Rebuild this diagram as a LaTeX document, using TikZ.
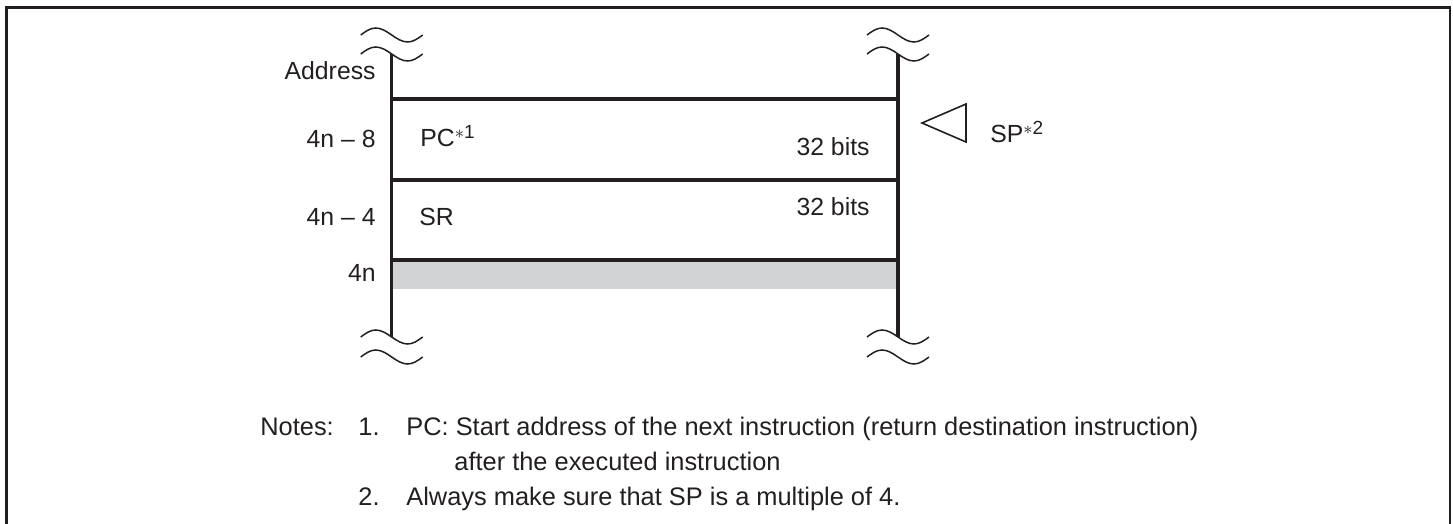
\documentclass[tikz,border=0pt]{standalone}
\usepackage{fontspec}
\setmainfont{Liberation Sans}
\usetikzlibrary{positioning}
\definecolor{ink}{HTML}{231F20}
\definecolor{band}{HTML}{D1D3D4}
\newcommand{\fnmark}[1]{\raisebox{0.62ex}{\fontsize{9.5}{9.5}\selectfont$\ast$#1}}
\tikzstyle{every node}=[anchor=base west,inner sep=0pt,text=ink,font=\fontsize{12.4}{14}\selectfont]
\tikzstyle{addr}=[anchor=base east]
\tikzstyle{note}=[font=\fontsize{12.7}{14}\selectfont]
\tikzstyle{cell}=[draw=ink,line width=1.65pt]
\tikzstyle{wave}=[draw=ink,line width=0.75pt]
\tikzset{brk/.pic={\draw[wave] (-31,0) sin (-16,-7) cos (0,0) sin (16,7) cos (31,0);}}

\begin{document}
\begin{tikzpicture}[x=0.5pt,y=-0.5pt]
  \useasboundingbox (0,0) rectangle (1453,524);
  \clip (0,0) rectangle (1453,524);
  \draw[ink,line width=1.35pt] (6.3,600) |- (1450,7.3) -- (1450,600);
  % stack
  \coordinate (ltop) at (391.7,54);
  \coordinate (rtop) at (898,54);
  \coordinate (lbot) at (391.7,337);
  \coordinate (rbot) at (898,337);
  \foreach \n/\y in {1/99,2/180,3/260}{
    \coordinate (l\n) at (391.7,\y);
    \coordinate (r\n) at (898,\y);
  }
  \fill[band] (392.5,261) rectangle (897,289);
  \draw[cell] (ltop) -- (lbot);
  \draw[cell] (rtop) -- (rbot);
  \foreach \n in {1,2,3}
    \draw[cell] (l\n) -- (r\n);
  \foreach \x in {391.7,898}{
    \pic at (\x,35) {brk};
    \pic at (\x,54) {brk};
    \pic at (\x,337) {brk};
    \pic at (\x,357) {brk};
  }
  % labels
  \node[addr] (address) at (376,80) {Address};
  \node[addr] (a8) at (376,148) {4n -- 8};
  \node[addr] (a4) at (376,226) {4n -- 4};
  \node[addr] (a0) at (376,282) {4n};
  \node (pc) at (420,147) {PC\fnmark{1}};
  \node[addr] (pcbits) at (870,156) {32 bits};
  \node (sr) at (419,226) {SR};
  \node[addr] (srbits) at (870,216) {32 bits};
  \draw[ink,line width=0.8pt] (966,104) -- (922,123) -- (966,142) -- cycle;
  \node (sp) at (990,143) {SP\fnmark{2}};
  % notes
  \node[note] (notes) at (260,435) {Notes:};
  \node[note] (n1) at (358,435) {1.};
  \node[note] (t1) at (406,435) {PC: Start address of the next instruction (return destination instruction)};
  \node[note] (t1b) at (454,470) {after the executed instruction};
  \node[note] (n2) at (358,505) {2.};
  \node[note] (t2) at (406,505) {Always make sure that SP is a multiple of 4.};
\end{tikzpicture}
\end{document}
